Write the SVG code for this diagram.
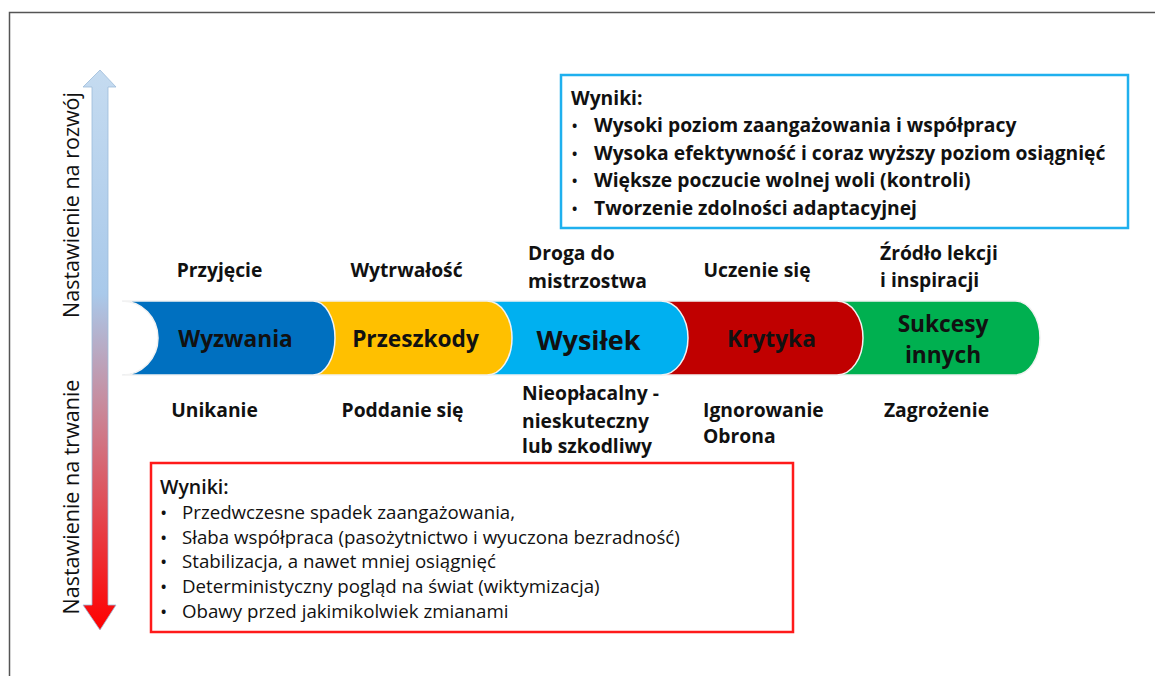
<svg xmlns="http://www.w3.org/2000/svg" width="1155" height="676" viewBox="0 0 1155 676">
<style>
text{font-family:"Open Sans","Liberation Sans",sans-serif;fill:#111}
.lab{font-size:19.3px;font-weight:bold}
.big{font-size:22.7px;font-weight:bold}
.up{font-size:19.3px;font-weight:bold}
.lo{font-size:18.7px}
.bu{font-size:14px;font-weight:bold}
.vt{font-size:21.5px}
.seg{stroke:#f2f2f2;stroke-width:1.5}
</style>
<defs>
<linearGradient id="ag" x1="0" y1="0" x2="0" y2="1">
<stop offset="0" stop-color="#c5dbf0"/>
<stop offset="0.4" stop-color="#a9c9ea"/>
<stop offset="0.6" stop-color="#c88a9c"/>
<stop offset="1" stop-color="#ff0000"/>
</linearGradient>
</defs>
<rect width="1155" height="676" fill="#fff"/>
<path d="M9.5 676 V12.5 H1155" fill="none" stroke="#555" stroke-width="1.5"/>
<g id="axis">
<path d="M100 70 L116 87 H108 V605 H116 L100 630 L83 605 H92 V87 H83 Z" fill="url(#ag)" stroke="#9dbbd9" stroke-width="0.8"/>
<text class="vt" transform="translate(79,205) rotate(-90)" text-anchor="middle">Nastawienie na rozwój</text>
<text class="vt" transform="translate(79,497) rotate(-90)" text-anchor="middle">Nastawienie na trwanie</text>
</g>
<g id="band">
<g id="n5"><path class="seg" d="M820 301 H1015 A25 37 0 0 1 1015 375 H820 Z" fill="#00b050"/>
<text class="big" x="943" y="332" text-anchor="middle">Sukcesy</text><text class="big" x="943" y="363" text-anchor="middle">innych</text></g>
<g id="n4"><path class="seg" d="M640 301 H837 A26 37 0 0 1 837 375 H640 Z" fill="#c00000"/>
<text class="big" x="771.5" y="347" text-anchor="middle">Krytyka</text></g>
<g id="n3"><path class="seg" d="M480 301 H661 A27 37 0 0 1 661 375 H480 Z" fill="#00b0f0"/>
<text x="588.5" y="350" text-anchor="middle" font-size="27" font-weight="bold">Wysiłek</text></g>
<g id="n2"><path class="seg" d="M300 301 H487 A25 37 0 0 1 487 375 H300 Z" fill="#ffc000"/>
<text class="big" x="415.5" y="347" text-anchor="middle">Przeszkody</text></g>
<g id="n1"><path class="seg" d="M122 301 H313 A22 37 0 0 1 313 375 H122 A36 37 0 0 0 122 301 Z" fill="#0070c0"/>
<text class="big" x="235.5" y="347" text-anchor="middle">Wyzwania</text></g>
</g>
<g id="top-labels" class="lab">
<text x="219.5" y="277" text-anchor="middle">Przyjęcie</text>
<text x="406.5" y="277" text-anchor="middle">Wytrwałość</text>
<text x="528" y="260">Droga do</text><text x="528" y="288">mistrzostwa</text>
<text x="757" y="277" text-anchor="middle">Uczenie się</text>
<text x="880" y="260">Źródło lekcji</text><text x="880" y="287">i inspiracji</text>
</g>
<g id="bottom-labels" class="lab">
<text x="214.5" y="417" text-anchor="middle">Unikanie</text>
<text x="402.5" y="417" text-anchor="middle">Poddanie się</text>
<text x="522" y="400">Nieopłacalny -</text>
<text x="522" y="428">nieskuteczny</text>
<text x="522" y="453">lub szkodliwy</text>
<text x="703" y="417">Ignorowanie</text><text x="703" y="443">Obrona</text>
<text x="936.5" y="417" text-anchor="middle">Zagrożenie</text>
</g>
<g id="growth-box">
<rect x="561" y="75" width="567" height="153" fill="#fff" stroke="#1fb0ee" stroke-width="2.5"/>
<g class="up">
<text x="571" y="105">Wyniki:</text>
<text class="bu" x="572" y="131">•</text><text x="594" y="132">Wysoki poziom zaangażowania i współpracy</text>
<text class="bu" x="572" y="159">•</text><text x="594" y="160">Wysoka efektywność i coraz wyższy poziom osiągnięć</text>
<text class="bu" x="572" y="186">•</text><text x="594" y="187">Większe poczucie wolnej woli (kontroli)</text>
<text class="bu" x="572" y="214">•</text><text x="594" y="215">Tworzenie zdolności adaptacyjnej</text>
</g>
</g>
<g id="fixed-box">
<rect x="151" y="463" width="642" height="169" fill="#fff" stroke="#ff1a1a" stroke-width="2.5"/>
<text x="160" y="494" font-size="19.5" font-weight="600">Wyniki:</text>
<g class="lo">
<text class="bu" x="161" y="518">•</text><text x="182" y="519">Przedwczesne spadek zaangażowania,</text>
<text class="bu" x="161" y="543">•</text><text x="182" y="544">Słaba współpraca (pasożytnictwo i wyuczona bezradność)</text>
<text class="bu" x="161" y="567">•</text><text x="182" y="568">Stabilizacja, a nawet mniej osiągnięć</text>
<text class="bu" x="161" y="592">•</text><text x="182" y="593">Deterministyczny pogląd na świat (wiktymizacja)</text>
<text class="bu" x="161" y="617">•</text><text x="182" y="618">Obawy przed jakimikolwiek zmianami</text>
</g>
</g>
</svg>
